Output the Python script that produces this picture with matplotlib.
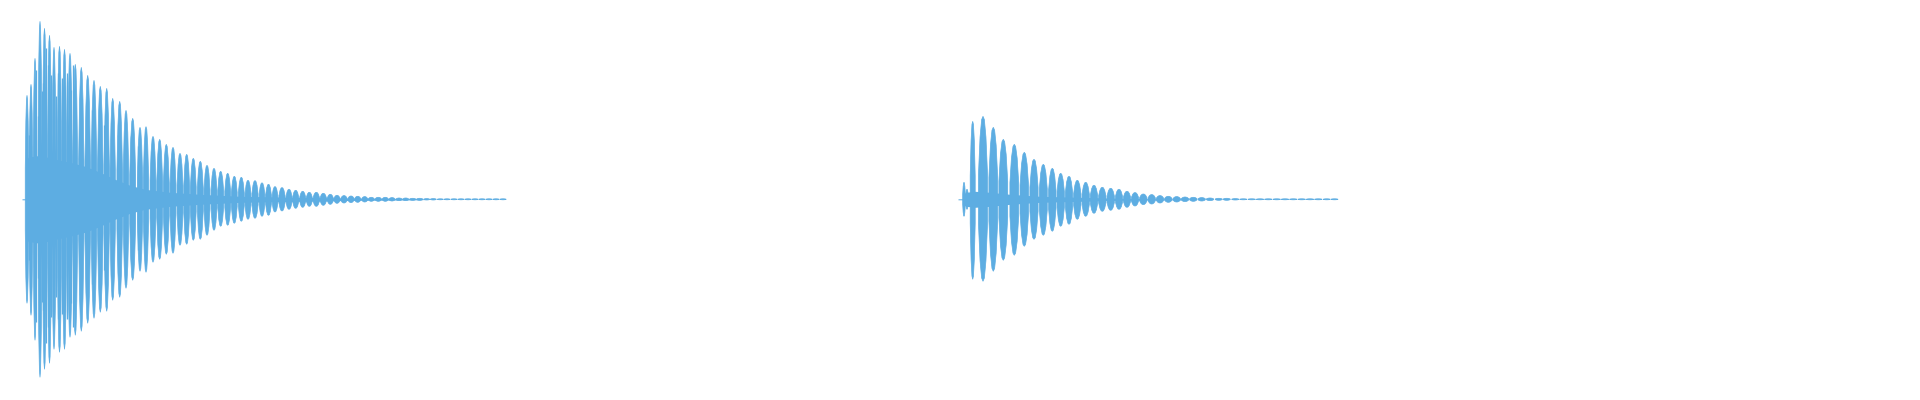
import numpy as np
import matplotlib
matplotlib.use("Agg")
import matplotlib.pyplot as plt

# two decaying waveforms (kick-like hits)
# x = column position on the strip, levels = peak level in the same units

# first hit: peaks of each oscillation
w1_x = [27, 31, 35, 40, 44.5, 49.5, 54, 59.5, 64.5, 70, 75.3, 81.3, 87.7, 94, 100.3,
        106.7, 112.7, 119.7, 126, 132.7,
        140, 146, 153, 159.7, 166.3, 173, 180, 186.7, 193.3, 200.3, 207, 214, 220.7,
        227.7, 234.3, 241.3, 248, 255, 262,
        268.5, 275, 282, 289, 295.7, 302.7, 309.3, 316.3, 323.3, 330.3, 337, 344, 351,
        357.7, 364.7, 371.3, 378.3, 385.3, 392, 399, 405.7, 412.7, 419.7, 426.7, 433.3, 440.3,
        447, 454, 461, 468, 475, 482, 489, 496, 503]
w1_top = [104, 115, 141, 178, 171, 164, 152, 153, 150, 146, 135, 132, 124, 119, 113,
          111, 101, 98, 89, 81,
          72, 72.7, 63, 60, 55, 52, 46, 45, 41, 38, 34, 31, 28,
          26, 23, 22, 19, 18.7, 16.5,
          15, 12.7, 11.7, 10, 9, 8, 7, 7, 6, 5, 4, 3.7, 3.3,
          3, 2.7, 2, 2, 2, 1.7, 1.3, 1.3, 1, 1, 0.7, 0.7, 0.5,
          0.5, 0.5, 0.5, 0.5, 0.5, 0.5, 0.5, 0.5, 0.5]
w1_bot = [104, 116, 141, 178, 170, 164, 150, 153, 150, 138, 136, 132, 124, 119, 113,
          112, 101, 98, 89, 81,
          72, 73, 63, 60, 55, 54, 46, 45, 41, 40, 36, 31, 27,
          26, 24, 22, 20, 19, 17,
          16, 12.7, 11.7, 10, 9, 8, 7, 7, 6, 5, 4, 3.7, 3.3,
          3, 2.7, 2, 2, 2, 1.7, 1.3, 1.3, 1, 1, 0.7, 0.7, 0.5,
          0.5, 0.5, 0.5, 0.5, 0.5, 0.5, 0.5, 0.5, 0.5]

# in-between spikes of the first hit
w1_sub_x = [29, 34, 36, 38, 42, 43, 46, 48, 51, 56, 58, 62, 67, 71, 73, 80, 87, 92,
            100, 104, 112, 118, 125, 131, 138]
w1_sub_lvl = [64, 71, 129, 83, 108, 116, 151, 134, 124, 103, 126, 121, 126, 109, 134, 101,
              89, 89, 106, 74, 69, 64, 64, 63, 53]

# dense core of the first hit
w1_core_x = [22, 25.5, 26, 28, 40, 55, 70, 85, 100, 115, 130, 145, 170, 200, 240, 300, 360, 420, 428]
w1_core = [0.5, 0.5, 30, 42, 44, 40, 37, 33, 27, 20, 14, 10, 7, 5, 3, 2, 1, 0.5, 0]

# second hit
w2_x = [964, 967, 972.7, 983, 993.3, 1003.3, 1014.3, 1024.3, 1034, 1043.3, 1052.3, 1060.7,
        1069, 1077.3, 1085.7, 1094, 1102.3, 1110.7, 1119, 1127, 1135, 1143.3, 1151.7, 1160,
        1168.3, 1176.7, 1185, 1193.3, 1201.7, 1210, 1218.7, 1226.7, 1235.3, 1243.3, 1251.7,
        1260, 1268.3, 1276.7, 1285, 1293.3, 1301.7, 1310, 1318.3, 1326.7, 1334.5]
w2_top = [17, 10, 78, 83, 72, 60, 55, 47, 40, 35, 31, 26,
          23, 19, 17, 14, 12, 11, 10, 8, 6.7, 5.3, 4.7, 3.7,
          3, 2.7, 2.3, 2, 1.7, 1.3, 1, 1, 0.7, 0.5, 0.5,
          0.5, 0.5, 0.5, 0.5, 0.5, 0.5, 0.5, 0.5, 0.5, 0.5]
w2_bot = [17, 10, 80, 82, 72, 61, 56, 47, 40, 36, 32, 27,
          25, 20, 17, 14, 12, 11, 10, 8, 6.7, 5.3, 4.7, 3.7,
          3, 2.7, 2.3, 2, 1.7, 1.3, 1, 1, 0.7, 0.5, 0.5,
          0.5, 0.5, 0.5, 0.5, 0.5, 0.5, 0.5, 0.5, 0.5, 0.5]

w2_core_x = [958, 962.5, 963, 966, 975, 990, 1010, 1040, 1080, 1120, 1160, 1185, 1190]
w2_core = [0.5, 0.5, 5, 7, 8, 7, 5, 3, 2, 1, 0.5, 0.5, 0]

COLOR = "#5dade2"
# shape of one oscillation (relative offsets / heights)
LENS_DX = np.array([-1, -0.65, -0.3, 0, 0.3, 0.65, 1])
LENS_H = np.array([0.3, 0.75, 0.96, 1, 0.96, 0.75, 0.3])

fig = plt.figure(figsize=(19.2, 4), dpi=100)
ax = fig.add_axes([0, 0, 1, 1])


def draw_hit(xs, tops, bots, core_x, core):
    ax.fill_between(core_x, -np.array(core), core, color=COLOR, lw=0)
    xs = np.array(xs, dtype=float)
    gaps = np.diff(xs)
    near = np.minimum(np.r_[gaps[0], gaps], np.r_[gaps, gaps[-1]])
    for x, t, b, g in zip(xs, tops, bots, near):
        hw = 0.44 * g
        px = x + LENS_DX * hw
        ax.fill(np.r_[px, px[::-1]], np.r_[LENS_H * t, -LENS_H[::-1] * b],
                color=COLOR, lw=0.5)


draw_hit(w1_x, w1_top, w1_bot, w1_core_x, w1_core)
ax.vlines(w1_sub_x, -np.array(w1_sub_lvl) * 0.95, w1_sub_lvl, color=COLOR, lw=0.9)
draw_hit(w2_x, w2_top, w2_bot, w2_core_x, w2_core)

ax.set_xlim(0, 1920)
ax.set_ylim(-200.7, 199.3)
ax.axis("off")

plt.savefig("out.png", dpi=100, facecolor="white")
